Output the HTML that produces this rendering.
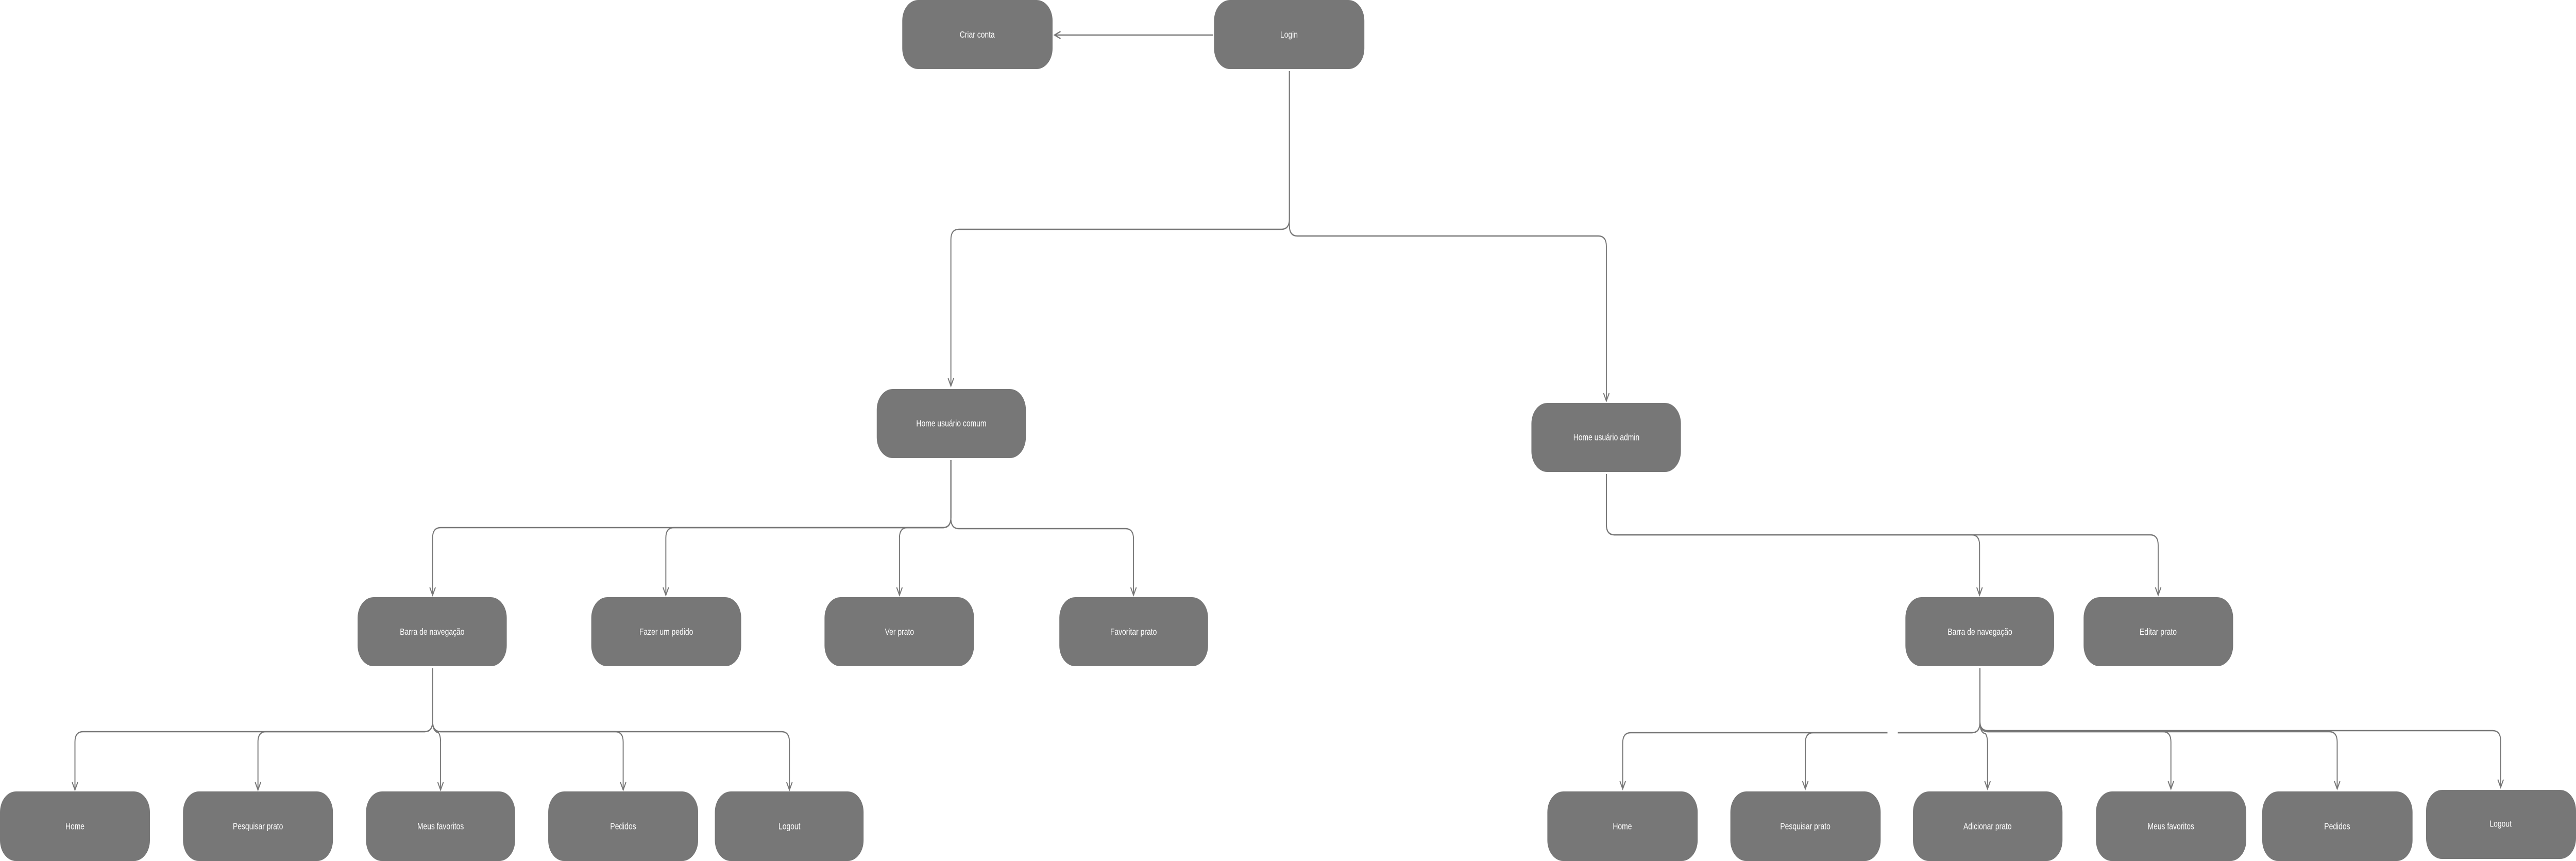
<!DOCTYPE html>
<html><head><meta charset="utf-8"><style>
html,body{margin:0;padding:0;background:#fff;overflow:hidden;width:100%;height:100%;}
svg{display:block;width:100vw;height:100vh}
text{font-family:"Liberation Sans",sans-serif;font-size:18px;fill:#fff;text-anchor:middle;dominant-baseline:middle}
</style></head><body>
<svg viewBox="0 0 6461 1671" preserveAspectRatio="none" xmlns="http://www.w3.org/2000/svg">
<defs>
<marker id="a" markerWidth="24" markerHeight="24" refX="18" refY="9" orient="auto" markerUnits="userSpaceOnUse">
<path d="M3 2 L18 9 L3 16" fill="none" stroke="#777" stroke-width="2.5"/>
</marker>
</defs>
<g fill="none" stroke="#777" stroke-width="2.5" marker-end="url(#a)">
<path d="M3043 68 H2645"/>
<path d="M3234 138 V425 Q3234 445 3214 445 H2405 Q2385 445 2385 465 V749"/>
<path d="M3234 138 V438 Q3234 458 3254 458 H4009 Q4029 458 4029 478 V778"/>
<path d="M2385 893 V1004 Q2385 1024 2365 1024 H1105 Q1085 1024 1085 1044 V1155"/>
<path d="M2385 893 V1004 Q2385 1024 2365 1024 H1690 Q1670 1024 1670 1044 V1155"/>
<path d="M2385 893 V1004 Q2385 1024 2365 1024 H2276 Q2256 1024 2256 1044 V1155"/>
<path d="M2385 893 V1006 Q2385 1026 2405 1026 H2823 Q2843 1026 2843 1046 V1155"/>
<path d="M4029 920 V1018 Q4029 1038 4049 1038 H4945 Q4965 1038 4965 1058 V1155"/>
<path d="M4029 920 V1018 Q4029 1038 4049 1038 H5393 Q5413 1038 5413 1058 V1155"/>
<path d="M1085 1297 V1400 Q1085 1420 1065 1420 H208 Q188 1420 188 1440 V1533"/>
<path d="M1085 1297 V1400 Q1085 1420 1065 1420 H667 Q647 1420 647 1440 V1533"/>
<path d="M1085 1297 V1400 Q1085 1420 1100 1422 Q1105 1428 1105 1440 V1533"/>
<path d="M1085 1297 V1400 Q1085 1420 1105 1420 H1543 Q1563 1420 1563 1440 V1533"/>
<path d="M1085 1297 V1400 Q1085 1420 1105 1420 H1960 Q1980 1420 1980 1440 V1533"/>
<path d="M4966 1297 V1402 Q4966 1422 4946 1422 H4090 Q4070 1422 4070 1442 V1531"/>
<path d="M4966 1297 V1402 Q4966 1422 4946 1422 H4548 Q4528 1422 4528 1442 V1531"/>
<path d="M4966 1297 V1402 Q4966 1422 4980 1424 Q4985 1430 4985 1442 V1531"/>
<path d="M4966 1297 V1402 Q4966 1420 4986 1420 H5425 Q5445 1420 5445 1440 V1531"/>
<path d="M4966 1297 V1402 Q4966 1420 4986 1420 H5842 Q5862 1420 5862 1440 V1531"/>
<path d="M4966 1297 V1400 Q4966 1418 4986 1418 H6252 Q6272 1418 6272 1438 V1528"/>
</g>
<rect x="4734" y="1414" width="26" height="16" fill="#fff"/>
<g fill="#777">
<rect x="2263" y="0" width="377" height="134" rx="40"/>
<rect x="3045" y="0" width="377" height="134" rx="40"/>
<rect x="2199" y="755" width="374" height="134" rx="40"/>
<rect x="3841" y="782" width="375" height="134" rx="40"/>
<rect x="897" y="1159" width="374" height="134" rx="40"/>
<rect x="1483" y="1159" width="376" height="134" rx="40"/>
<rect x="2068" y="1159" width="375" height="134" rx="40"/>
<rect x="2657" y="1159" width="373" height="134" rx="40"/>
<rect x="4779" y="1159" width="373" height="134" rx="40"/>
<rect x="5226" y="1159" width="375" height="134" rx="40"/>
<rect x="0" y="1536" width="376" height="135" rx="40"/>
<rect x="459" y="1536" width="376" height="135" rx="40"/>
<rect x="918" y="1536" width="374" height="135" rx="40"/>
<rect x="1375" y="1536" width="376" height="135" rx="40"/>
<rect x="1793" y="1536" width="373" height="135" rx="40"/>
<rect x="3881" y="1536" width="377" height="135" rx="40"/>
<rect x="4340" y="1536" width="377" height="135" rx="40"/>
<rect x="4798" y="1536" width="375" height="135" rx="40"/>
<rect x="5257" y="1536" width="377" height="135" rx="40"/>
<rect x="5674" y="1536" width="377" height="135" rx="40"/>
<rect x="6085" y="1533" width="376" height="134" rx="40"/>
</g>
<text x="2451" y="68">Criar conta</text>
<text x="3233" y="68">Login</text>
<text x="2386" y="823">Home usuário comum</text>
<text x="4029" y="850">Home usuário admin</text>
<text x="1084" y="1227">Barra de navegação</text>
<text x="1671" y="1227">Fazer um pedido</text>
<text x="2256" y="1227">Ver prato</text>
<text x="2843" y="1227">Favoritar prato</text>
<text x="4966" y="1227">Barra de navegação</text>
<text x="5413" y="1227">Editar prato</text>
<text x="188" y="1605">Home</text>
<text x="647" y="1605">Pesquisar prato</text>
<text x="1105" y="1605">Meus favoritos</text>
<text x="1563" y="1605">Pedidos</text>
<text x="1980" y="1605">Logout</text>
<text x="4069" y="1605">Home</text>
<text x="4528" y="1605">Pesquisar prato</text>
<text x="4985" y="1605">Adicionar prato</text>
<text x="5445" y="1605">Meus favoritos</text>
<text x="5862" y="1605">Pedidos</text>
<text x="6272" y="1600">Logout</text>
</svg>
</body></html>
